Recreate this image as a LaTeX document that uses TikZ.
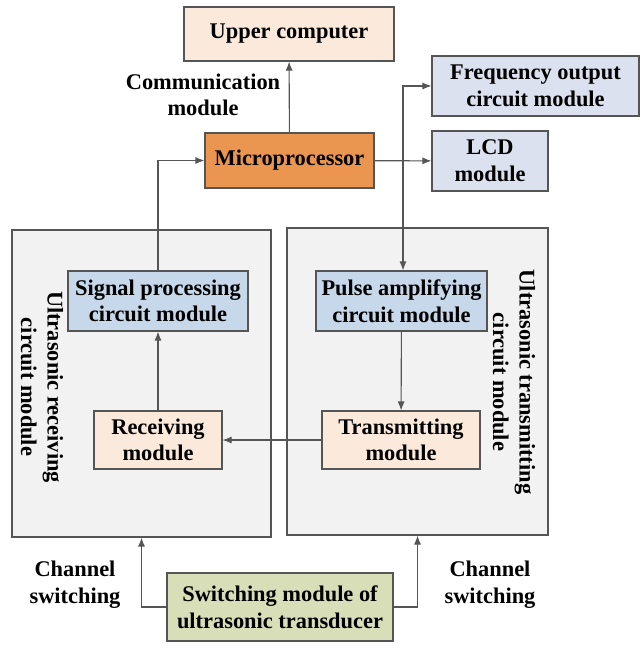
\documentclass[tikz,border=0pt]{standalone}
\usepackage{fontspec}
\setmainfont{Liberation Serif}
\usetikzlibrary{arrows.meta,positioning}

\definecolor{peach}{HTML}{FBEADC}
\definecolor{orangebox}{HTML}{EA9650}
\definecolor{lavender}{HTML}{DCE1EF}
\definecolor{lightblue}{HTML}{C6D8EA}
\definecolor{olivebox}{HTML}{D7DEB8}
\definecolor{panelgray}{HTML}{F2F2F2}
\definecolor{linegray}{HTML}{555555}

\begin{document}
\begin{tikzpicture}[x=1pt,y=-1pt,>={Latex[length=9pt,width=7pt]},
		every node/.style={font=\bfseries\fontsize{22.4}{26.7}\selectfont,align=center,inner sep=0pt},
		conn/.style={->,draw=linegray,line width=1.1pt}]
		\tikzstyle{block}=[draw=linegray,line width=1.1pt]
		\tikzstyle{panel}=[draw=linegray,line width=1.1pt,fill=panelgray]
		\useasboundingbox (0,0) rectangle (640,658);

		% the two circuit panels
		\node[panel,minimum width=259,minimum height=307] (recvpanel) at (141.5,383.5) {};
		\node[panel,minimum width=261,minimum height=307] (sendpanel) at (417.5,381.5) {};
		\node[rotate=-90] (recvlabel) at (42,387) {Ultrasonic receiving\\circuit module};
		\node[rotate=-90] (sendlabel) at (514,382) {Ultrasonic transmitting\\circuit module};

		% main blocks
		\node[block,fill=peach,minimum width=210,minimum height=54]      (upper) at (289,34)    {Upper computer};
		\node[block,fill=orangebox,minimum width=169,minimum height=55]  (micro) at (289.5,160.5) {Microprocessor};
		\node[block,fill=lavender,minimum width=207,minimum height=60]   (freq)  at (535.5,86)  {Frequency output\\circuit module};
		\node[block,fill=lavender,minimum width=116,minimum height=60]   (lcd)   at (490,161)   {LCD\\module};
		\node[block,fill=lightblue,minimum width=180,minimum height=60]  (sig)   at (158,301)   {Signal processing\\circuit module};
		\node[block,fill=peach,minimum width=128,minimum height=58]      (recv)  at (158,440)   {Receiving\\module};
		\node[block,fill=lightblue,minimum width=171,minimum height=60]  (pulse) at (401.5,301) {Pulse amplifying\\circuit module};
		\node[block,fill=peach,minimum width=158,minimum height=58]      (trans) at (401,440)   {Transmitting\\module};
		\node[block,fill=olivebox,minimum width=226,minimum height=68]   (switch) at (280,607)  {Switching module of\\ultrasonic transducer};

		% plain labels
		\node (comm)  at (203,95)  {Communication\\module};
		\node (chanl) at (75,585)  {Channel\\switching};
		\node (chanr) at (490,585) {Channel\\switching};

		\coordinate (branch) at (403,161);

		% connectors
		\draw[conn] (micro) -- (upper);
		\draw[conn] (micro) -- (lcd);
		\draw[conn] (branch) |- (freq.west);
		\draw[conn] (branch) -- (branch |- pulse.north);
		\draw[conn] (sig.north) |- (micro.west);
		\draw[conn] (recv) -- (sig);
		\draw[conn] (pulse) -- (trans);
		\draw[conn] (trans) -- (recv);
		\draw[conn] (switch.west) -| (recvpanel.south);
		\draw[conn] (switch.east) -| (sendpanel.south);
	\end{tikzpicture}
\end{document}
